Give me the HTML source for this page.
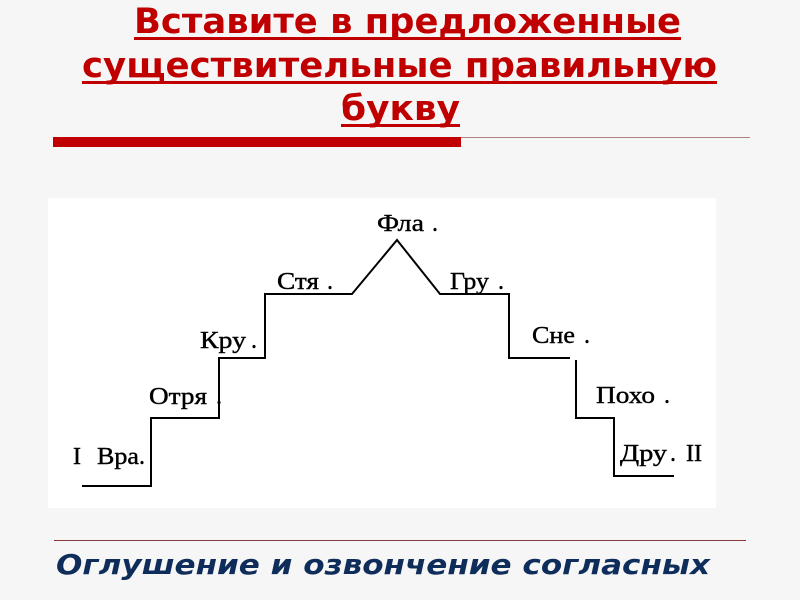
<!DOCTYPE html>
<html><head><meta charset="utf-8"><style>
html,body{margin:0;padding:0;background:#f5f5f5;}
svg{display:block;}
</style></head><body>
<svg width="800" height="600" xmlns="http://www.w3.org/2000/svg">
<rect width="800" height="600" fill="#f6f6f6"/>
<g font-family="'DejaVu Sans','Liberation Sans',sans-serif" font-weight="bold" font-size="35" fill="#c00000">
<text x="134" y="33" textLength="547" lengthAdjust="spacingAndGlyphs">Вставите в предложенные</text>
<text x="82" y="77" textLength="635" lengthAdjust="spacingAndGlyphs">существительные правильную</text>
<text x="341" y="120" textLength="119" lengthAdjust="spacingAndGlyphs">букву</text>
</g>
<g fill="#c00000">
<rect x="134" y="37" width="547" height="3"/>
<rect x="82" y="81" width="635" height="3"/>
<rect x="341" y="124" width="119" height="3"/>
<rect x="53" y="137" width="408" height="10"/>
</g>
<line x1="461" y1="137.5" x2="750" y2="137.5" stroke="#b08080" stroke-width="1"/>
<rect x="48" y="198" width="668" height="310" fill="#ffffff"/>
<polyline fill="none" stroke="#000" stroke-width="2" points="82,486 151,486 151,418 219,418 219,358 265,358 265,294 352,294 397,240 440,294 509,294 509,358 570,358"/>
<polyline fill="none" stroke="#000" stroke-width="2" points="576,360 576,418 614,418 614,476 674,476"/>
<g font-family="'Liberation Serif',serif" font-size="24" fill="#000" stroke="#000" stroke-width="0.4">
<text x="73" y="464">I</text>
<text x="97" y="464" textLength="42" lengthAdjust="spacingAndGlyphs">Вра</text><text x="139" y="464">.</text>
<text x="149" y="404" textLength="58" lengthAdjust="spacingAndGlyphs">Отря</text><text x="216" y="404">.</text>
<text x="200" y="348" textLength="46" lengthAdjust="spacingAndGlyphs">Кру</text><text x="251" y="348">.</text>
<text x="277" y="289" textLength="42" lengthAdjust="spacingAndGlyphs">Стя</text><text x="327" y="289">.</text>
<text x="377" y="231" textLength="47" lengthAdjust="spacingAndGlyphs">Фла</text><text x="432" y="231">.</text>
<text x="450" y="289" textLength="39" lengthAdjust="spacingAndGlyphs">Гру</text><text x="498" y="289">.</text>
<text x="532" y="343" textLength="43" lengthAdjust="spacingAndGlyphs">Сне</text><text x="584" y="343">.</text>
<text x="596" y="403" textLength="59" lengthAdjust="spacingAndGlyphs">Похо</text><text x="664" y="403">.</text>
<text x="620" y="461" textLength="47" lengthAdjust="spacingAndGlyphs">Дру</text><text x="670" y="461">.</text>
<text x="686" y="461">II</text>
</g>
<line x1="54" y1="540.5" x2="746" y2="540.5" stroke="#8a3a3a" stroke-width="1"/>
<text x="56" y="574" font-family="'DejaVu Sans','Liberation Sans',sans-serif" font-weight="bold" font-style="italic" font-size="28" fill="#0f2d5a" textLength="654" lengthAdjust="spacingAndGlyphs">Оглушение и озвончение согласных</text>
</svg>
</body></html>
